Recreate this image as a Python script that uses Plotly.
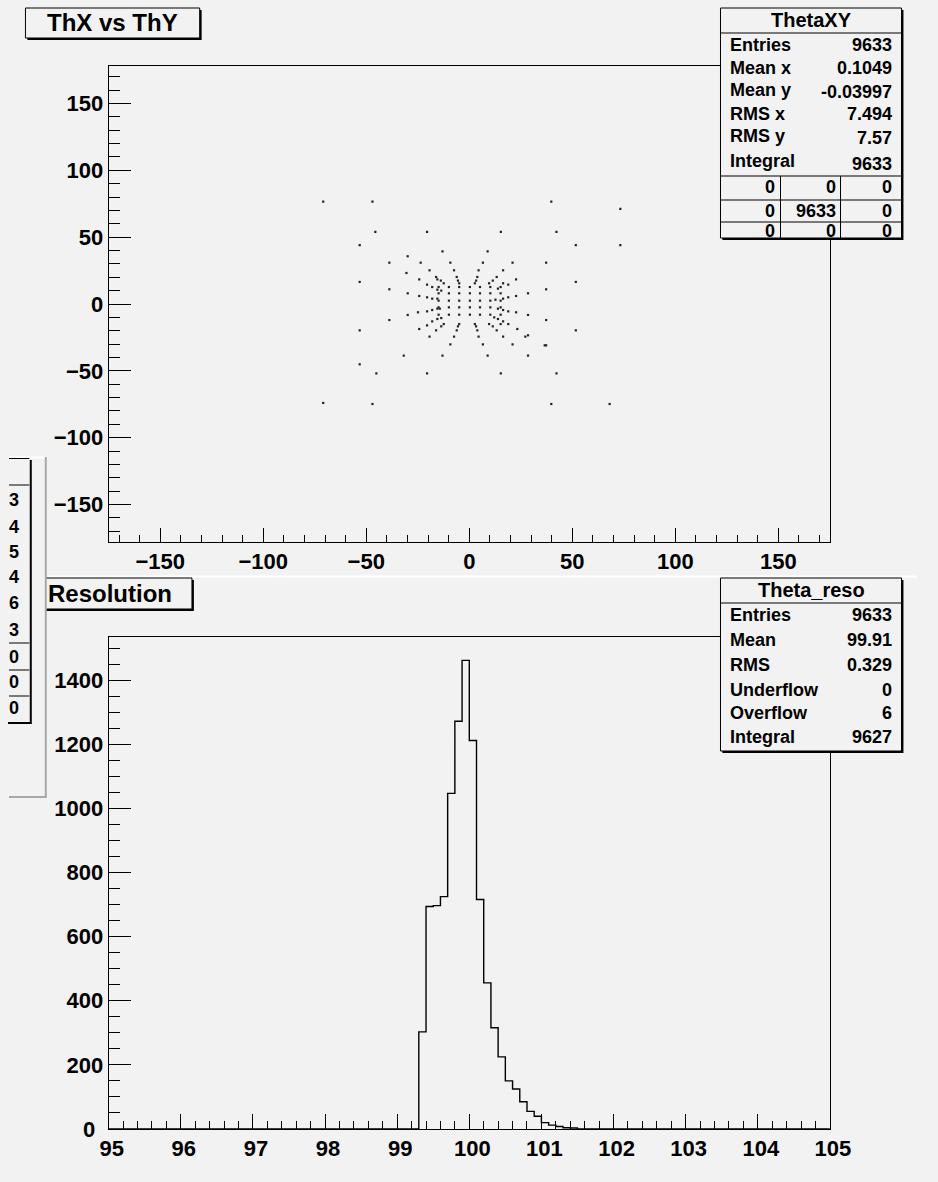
import plotly.graph_objects as go

W, H = 938, 1182
FONT = "Liberation Sans"
BG = "#f2f2f2"

# ---- ThX vs ThY : distinct (ThX, ThY) positions filled in the 2D histogram ----
thx = [
    -70.9, -47.0, 39.8, 73.3,
    73.3, -53.2, 51.7,
    -45.6, -20.5, 15.3, 42.3,
    -13.0, 8.9, -29.9,
    -38.8, -23.6, -9.2, 6.6, 21.0, 37.3,
    -19.3, -7.4, 4.5, 16.4, -30.5,
    -16.1, -6.1, 3.9, 13.3,
    -24.3, -15.5, -13.8, -5.5, 3.3, 11.4, 22.7,
    -53.2, 51.7,
    -12.4, -4.9, 2.7, 9.6, 16.4, -20.5, 18.9,
    -18.0, -14.9, -9.9, -4.9, 0.3, 5.2, 10.2, 15.2, 13.9, -15.5, -13.6,
    -38.8, 37.3,
    -29.9, -14.9, -9.9, -4.9, 0.3, 5.2, 10.2, 15.2, 28.5,
    -24.3, -20.5, -18.0, -15.5, 16.4, 18.9, 22.7,
    -14.9, -9.9, -4.9, 0.3, 5.2, 10.2, 15.2, 12.7,
    -14.9, -9.9, -4.9, 0.3, 5.2, 10.2, 15.2,
    -15.5, -14.3, 13.9, -18.0, 16.4, -20.5, 18.9, -24.9, 22.7,
    -14.9, -9.9, -4.9, 0.3, 5.2, 10.2, 15.2, 28.5, -29.9,
    12.1, -13.6, -15.5, 13.9, -38.8, 37.3, -18.0, 16.4,
    -12.4, -4.9, 2.7, 9.6, 15.2, 18.9,
    -20.5, -13.6, -5.5, 3.3, 11.4,
    -24.3, -16.1, -6.1, 3.9, 13.3, 23.3,
    -53.2, 51.7, 28.5,
    -19.3, -7.4, 4.5, 16.4, 27.2,
    -9.2, 6.6, 21.0, 37.3, 36.6,
    -31.8, -13.0, 8.9, 28.5,
    -53.2,
    -45.1, -20.5, 15.3, 42.3,
    -70.9, -47.0, 39.8, 68.1,
]
thy = [
    76.5, 76.5, 76.5, 71.1,
    44.1, 44.1, 44.1,
    53.9, 53.9, 53.9, 53.9,
    39.4, 39.4, 35.7,
    30.9, 30.9, 30.9, 30.9, 30.9, 30.9,
    25.2, 25.2, 25.2, 25.2, 23.2,
    20.2, 20.2, 20.2, 20.2,
    18.4, 18.4, 17.5, 17.5, 17.5, 17.5, 18.4,
    16.5, 16.5,
    15.5, 15.5, 15.5, 15.5, 15.5, 14.5, 14.5,
    12.7, 12.7, 12.7, 12.7, 12.7, 12.7, 12.7, 12.7, 11.5, 10.7, 10.0,
    11.0, 11.0,
    8.0, 8.0, 8.0, 8.0, 8.0, 8.0, 8.0, 8.0, 8.0,
    6.0, 5.0, 4.0, 4.0, 4.0, 5.0, 6.0,
    2.5, 2.5, 2.5, 2.5, 2.5, 2.5, 2.5, 3.2,
    -2.5, -2.5, -2.5, -2.5, -2.5, -2.5, -2.5,
    -3.5, -3.5, -3.5, -4.5, -4.5, -5.5, -5.5, -6.2, -6.2,
    -8.0, -8.0, -8.0, -8.0, -8.0, -8.0, -8.0, -8.2, -8.2,
    -10.0, -10.5, -11.2, -11.2, -12.0, -12.0, -13.0, -13.0,
    -15.0, -15.0, -15.0, -15.0, -15.0, -15.0,
    -16.0, -16.7, -16.7, -16.7, -16.7,
    -18.7, -19.7, -19.7, -19.7, -19.7, -18.7,
    -19.7, -19.7, -23.4,
    -24.4, -24.4, -24.4, -24.4, -24.4,
    -30.2, -30.2, -30.2, -30.9, -30.9,
    -38.6, -38.6, -38.6, -38.6,
    -45.1,
    -51.9, -51.9, -51.9, -51.9,
    -74.0, -74.8, -74.8, -74.8,
]

# ---- Theta_reso : 100 bins of 0.1 between 95 and 105 ----
reso_xmin, reso_xmax, reso_nbins = 95.0, 105.0, 100
reso_first_bin = 99.3
reso_counts = [303, 694, 697, 725, 1047, 1272, 1462, 1212, 716, 456, 316,
               225, 150, 125, 85, 55, 40, 20, 12, 8, 4, 3]
reso_ymax = 1535
reso_ytick_step = 200

# ---- statistics boxes ----
thetaxy_title = "ThetaXY"
thetaxy_stats = [("Entries", "9633"), ("Mean x", "0.1049"), ("Mean y", "-0.03997"),
                 ("RMS x", "7.494"), ("RMS y", "7.57"), ("Integral", "9633")]
thetaxy_table = [["0", "0", "0"], ["0", "9633", "0"], ["0", "0", "0"]]
reso_title = "Theta_reso"
reso_stats = [("Entries", "9633"), ("Mean", "99.91"), ("RMS", "0.329"),
              ("Underflow", "0"), ("Overflow", "6"), ("Integral", "9627")]
side_box_digits = ["3", "4", "5", "4", "6", "3"]
side_box_table = ["0", "0", "0"]

pad_titles = ["ThX vs ThY", "Resolution"]

# ---- histogram outline ----
bw = (reso_xmax - reso_xmin) / reso_nbins
contents = [0] * reso_nbins
i0 = int(round((reso_first_bin - reso_xmin) / bw))
for k, c in enumerate(reso_counts):
    contents[i0 + k] = c
edges = [reso_xmin + i * bw for i in range(reso_nbins + 1)]
step_y = contents + [contents[-1]]


def fx(x):
    return x / W


def fy(y):
    return 1 - y / H


shapes = []
annotations = []


def rect(x0, y0, x1, y1, fill=None, line=None, lw=1):
    shapes.append(dict(type="rect", xref="paper", yref="paper",
                       x0=fx(x0), x1=fx(x1), y0=fy(y1), y1=fy(y0),
                       fillcolor=fill or "rgba(0,0,0,0)",
                       line=dict(color=line or "rgba(0,0,0,0)", width=lw if line else 0),
                       layer="above"))


def seg(x0, y0, x1, y1, color="black", lw=1):
    shapes.append(dict(type="line", xref="paper", yref="paper",
                       x0=fx(x0), x1=fx(x1), y0=fy(y0), y1=fy(y1),
                       line=dict(color=color, width=lw), layer="above"))


def text(x, y, s, anchor="left", size=18):
    annotations.append(dict(xref="paper", yref="paper", x=fx(x), y=fy(y), text=s,
                            showarrow=False, xanchor=anchor, yanchor="middle",
                            borderpad=0,
                            font=dict(family=FONT, size=size, color="black", weight="bold")))


def pave(x0, y0, x1, y1, sh=2):
    rect(x0 + sh, y0 + sh, x1 + sh, y1 + sh, fill="black")
    rect(x0, y0, x1, y1, fill=BG, line="black", lw=1)


fig = go.Figure()

fig.add_trace(go.Scatter(
    x=thx, y=thy, mode="markers", xaxis="x", yaxis="y",
    marker=dict(symbol="square", size=2.2, color="#222222", line=dict(width=0)),
    showlegend=False, hoverinfo="skip"))

fig.add_trace(go.Scatter(
    x=edges, y=step_y, mode="lines", line_shape="hv", xaxis="x2", yaxis="y2",
    line=dict(color="black", width=1.4), showlegend=False, hoverinfo="skip"))

# pad borders
seg(40, 576.5, W, 576.5, color="white", lw=2)

# pad titles
pave(17, 8, 197, 38)
text(107, 23, pad_titles[0], anchor="center", size=24)
pave(17, 578, 189, 609)
text(104, 593, pad_titles[1], anchor="center", size=24)

# ThetaXY stats box
bx0, bx1 = 735, 922
pave(bx0, 8, bx1, 238)
seg(bx0, 33, bx1, 33)
text((bx0 + bx1) / 2, 20, thetaxy_title, anchor="center", size=20)
for (lab, val), yl, yv in zip(thetaxy_stats, [45, 68, 90, 114, 136, 161],
                              [45, 68, 92, 114, 138, 164]):
    text(744, yl, lab)
    text(913, yv, val, anchor="right")
for yl in [176, 200, 222]:
    seg(bx0, yl, bx1, yl)
seg(797, 176, 797, 238)
seg(859, 176, 859, 238)
for row, yr in zip(thetaxy_table, [187, 211, 231]):
    for val, xr in zip(row, [792, 855, 913]):
        text(xr, yr, val, anchor="right")

# Theta_reso stats box
pave(bx0, 578, bx1, 751)
seg(bx0, 603, bx1, 603)
text((bx0 + bx1) / 2, 590, reso_title, anchor="center", size=20)
for (lab, val), yl in zip(reso_stats, [615, 640, 665, 690, 713, 737]):
    text(744, yl, lab)
    text(913, yl, val, anchor="right")

# neighbouring pad on the left edge
rect(0, 457, 38, 797, fill=BG)
seg(0, 457.5, 38, 457.5, color="white", lw=2)
seg(38, 457, 38, 797, color="#a8a8a8", lw=2)
seg(0, 797, 39, 797, color="#a8a8a8", lw=2)
rect(-10, 459, 21, 722, fill=BG)
seg(22.5, 460, 22.5, 724, color="black", lw=2)
seg(-1, 723, 23, 723, color="black", lw=2)
seg(0, 458.5, 21, 458.5)
seg(0, 485, 21, 485)
for yl in [643, 670, 696]:
    seg(0, yl, 21, yl)
for d, yl in zip(side_box_digits, [500, 527, 552, 577, 603, 630]):
    text(11, yl, d, anchor="right")
for d, yl in zip(side_box_table, [657, 682, 708]):
    text(11, yl, d, anchor="right")

tickfont = dict(family=FONT, size=22, color="black", weight="bold")
base = dict(showgrid=False, zeroline=False, showline=True, mirror=True,
            linecolor="black", linewidth=1, ticks="inside", tickcolor="black",
            tickwidth=1, tickfont=tickfont, fixedrange=True)


def minor(dt, ln, t0=0):
    return dict(dtick=dt, tick0=t0, ticklen=ln, ticks="inside",
                tickcolor="black", tickwidth=1, showgrid=False)


# lower y axis: the zero label sits just left of the corner so it clears "95"
reso_yticks = list(range(0, reso_ymax, reso_ytick_step))
reso_ytext = ["" if v == 0 else str(v) for v in reso_yticks]
annotations.append(dict(xref="paper", yref="y2", x=fx(91), y=0, text="0",
                        showarrow=False, xanchor="right", yanchor="middle",
                        font=tickfont))

fig.update_layout(
    width=W, height=H, autosize=False,
    margin=dict(l=0, r=0, t=0, b=0),
    paper_bgcolor=BG, plot_bgcolor=BG,
    showlegend=False,
    xaxis=dict(base, domain=[fx(103), fx(848)], range=[-175, 175], anchor="y",
               tickmode="linear", tick0=0, dtick=50, ticklen=14, minor=minor(10, 7)),
    yaxis=dict(base, domain=[fy(542), fy(66)], range=[-178, 178], anchor="x",
               tickmode="linear", tick0=0, dtick=50, ticklen=22, minor=minor(10, 11)),
    xaxis2=dict(base, domain=[fx(103), fx(848)], range=[reso_xmin, reso_xmax], anchor="y2",
                tickmode="linear", tick0=95, dtick=1, ticklen=15,
                ticklabelshift=3, minor=minor(0.2, 8, 95)),
    yaxis2=dict(base, domain=[fy(1129), fy(637)], range=[0, reso_ymax], anchor="x2",
                tickmode="array", tickvals=reso_yticks, ticktext=reso_ytext,
                ticklen=22, minor=minor(50, 11)),
    shapes=shapes,
    annotations=annotations,
)

fig.write_html("out.html")
